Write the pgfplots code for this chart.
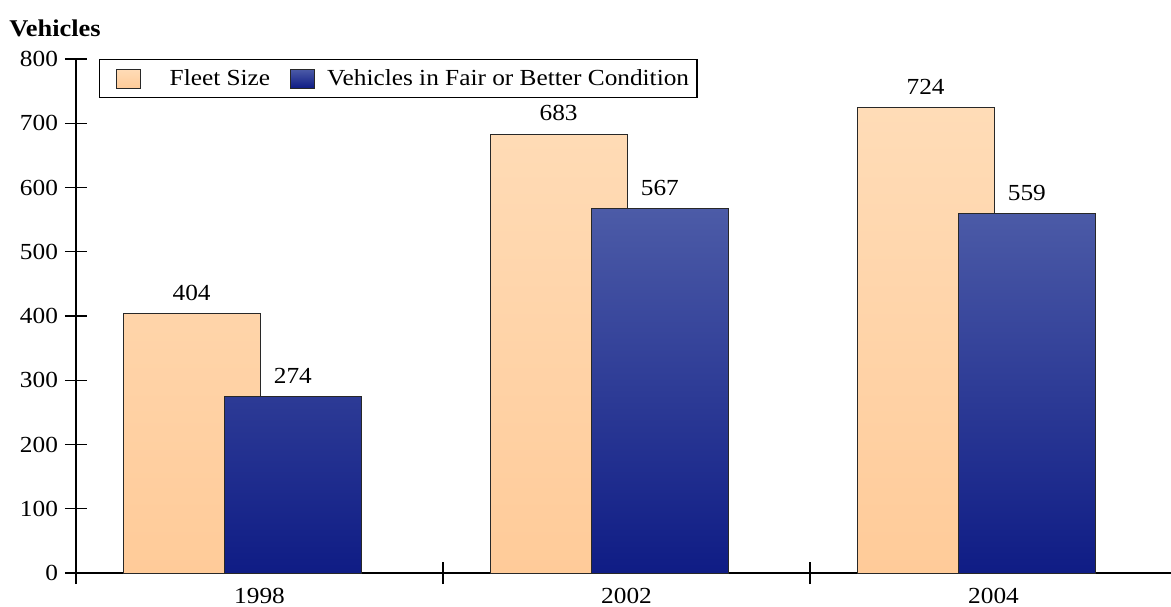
\documentclass[border=0pt]{standalone}
\usepackage{pgfplots}
\pgfplotsset{compat=1.18}
\usepackage{fontspec}
\setmainfont{Liberation Serif}[FakeStretch=1.1]

\definecolor{fleetTop}{RGB}{255,220,183}
\definecolor{fleetBot}{RGB}{255,203,153}
\definecolor{goodTop}{RGB}{76,91,167}
\definecolor{goodBot}{RGB}{15,28,133}
\definecolor{barEdge}{RGB}{40,40,40}

\begin{document}
\begin{tikzpicture}
\begin{axis}[
    scale only axis,
    width=550.5pt, height=257pt,
    xmin=0, xmax=3,
    ymin=0, ymax=800,
    axis x line=bottom, axis y line=left,
    axis line style={-, black, line width=0.6pt},
    tick style={black, line width=0.6pt},
    tick align=center,
    major tick length=11pt,
    xtick={0,1,2,3},
    xticklabels={1998,2002,2004},
    x tick label as interval,
    xticklabel style={yshift=1.5pt},
    ytick={0,100,...,800},
    font=\fontsize{11.5}{13}\selectfont,
    /pgf/number format/assume math mode=true,
    ylabel={\textbf{Vehicles}},
    ylabel style={rotate=-90, at={(axis description cs:0,1)}, anchor=south,
        xshift=-10.5pt, yshift=7.5pt, font=\fontsize{12}{14}\selectfont},
    bar width=0.373,
    nodes near coords,
    every node near coord/.append style={font=\fontsize{11.5}{13}\selectfont, black, yshift=3pt},
    legend columns=2,
    legend style={at={(0.021,1)}, anchor=north west, draw=black,
        line width=0.6pt, font=\fontsize{11.5}{13}\selectfont,
        inner xsep=2pt, inner ysep=2.75pt,
        /tikz/every odd column/.append style={column sep=4pt},
        /tikz/every even column/.append style={column sep=2pt}},
    legend image code/.code={\path (0pt,0pt);
        \draw[#1, line width=0.5pt] (6pt,-4.75pt) rectangle (18pt,4.75pt);},
]
\coordinate (o) at (rel axis cs:0,0);
\addplot[ybar, bar shift=0pt, draw=barEdge, line width=0.5pt,
    top color=fleetTop, bottom color=fleetBot]
    coordinates {(0.315,404) (1.315,683) (2.315,724)};
\addlegendentry{\hspace*{8.5pt}Fleet Size}
\addplot[ybar, bar shift=0pt, draw=barEdge, line width=0.5pt,
    top color=goodTop, bottom color=goodBot]
    coordinates {(0.591,274) (1.591,567) (2.591,559)};
\addlegendentry{Vehicles in Fair or Better Condition}
\end{axis}
\pgfresetboundingbox
\path ([shift={(-38pt,-16.5pt)}]o) rectangle ([shift={(547.5pt,286.5pt)}]o);
\end{tikzpicture}
\end{document}
